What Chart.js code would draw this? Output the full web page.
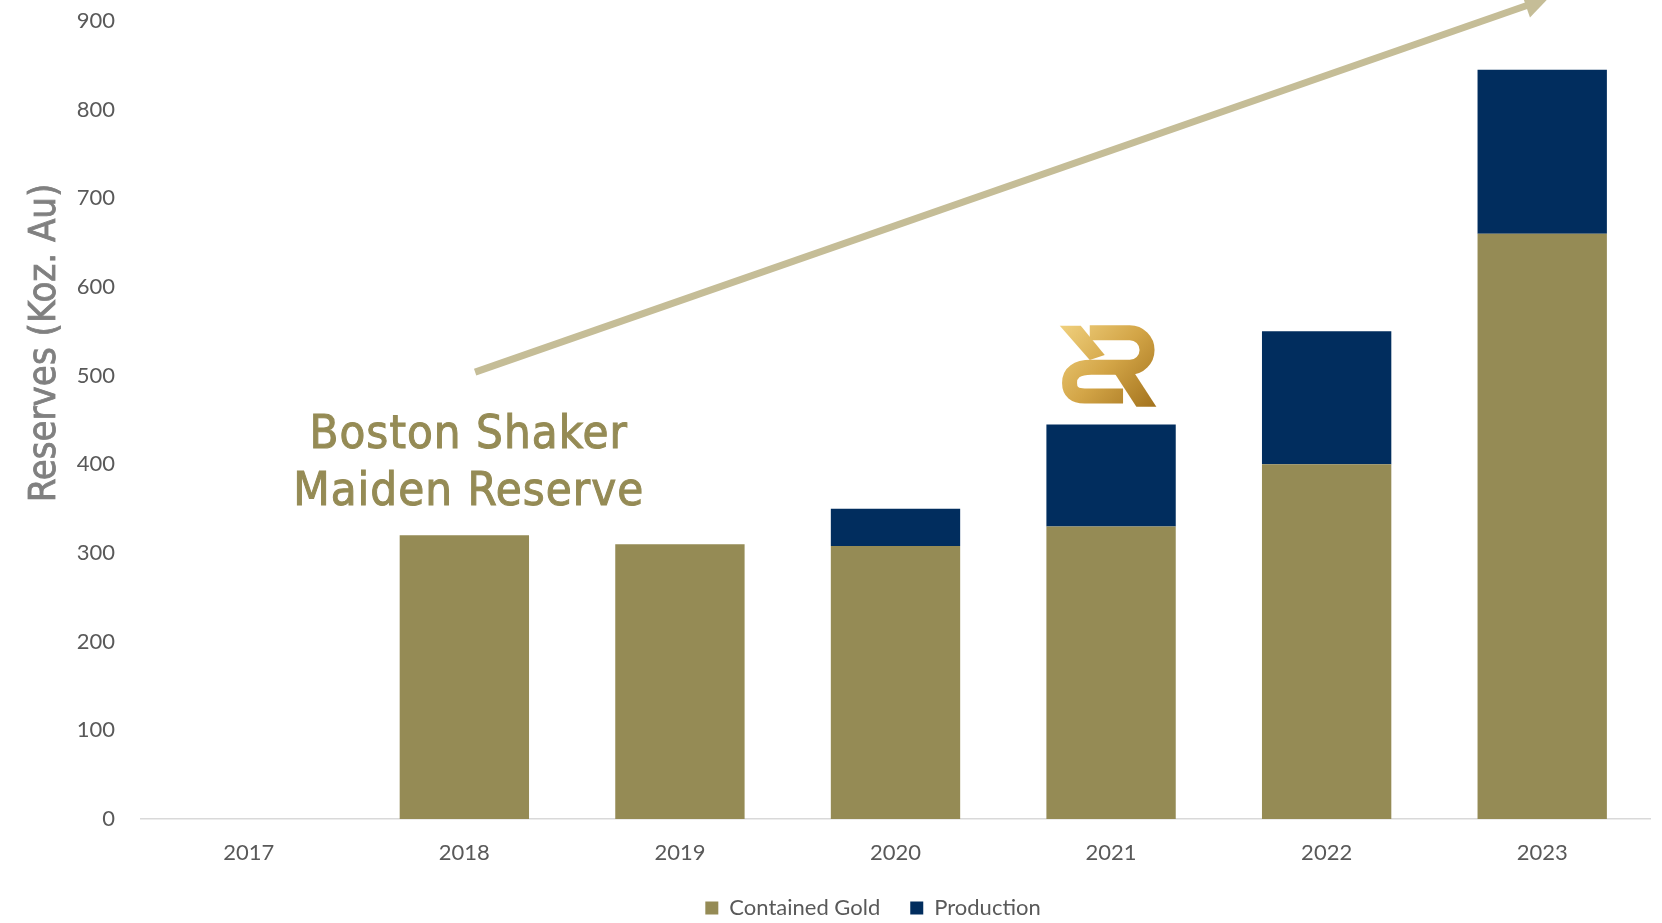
<!DOCTYPE html>
<html>
<head>
<meta charset="utf-8">
<title>Reserves</title>
<script src="https://cdn.jsdelivr.net/npm/chart.js@4.4.0/dist/chart.umd.min.js"></script>
<style>
  html, body { margin: 0; padding: 0; background: #fff; overflow: hidden; }
  #wrap { width: 1662px; height: 931px; }
</style>
</head>
<body>
<div id="wrap"><canvas id="reserves"></canvas></div>
<script>
// reserves by year, koz Au
const years = ['2017', '2018', '2019', '2020', '2021', '2022', '2023']
const containedGold = [null, 320, 310, 308, 330, 400, 660]
const production = [null, null, null, 42, 115, 150, 185]
const yMax = 900
const yStep = 100

const yTitle = 'Reserves (Koz. Au)'
const calloutLines = ['Boston Shaker', 'Maiden Reserve']

// annotation anchors in chart units: [category index, koz]
const calloutAt = [1.02, 401]
const trendFrom = [1.05, 504]
const trendTo = [6.03, 926]
const logoAt = [3.986, 512]

const GOLD = '#958b55'
const NAVY = '#012d5e'
const TEXT = '#595959'

function drawLogo(ctx, cx, cy) {
  ctx.save()
  ctx.translate(cx, cy)
  let grad = ctx.createLinearGradient(-45, -40, 45, 42)
  grad.addColorStop(0, '#efcf7c')
  grad.addColorStop(0.5, '#d3a547')
  grad.addColorStop(1, '#a4741e')
  ctx.strokeStyle = grad
  ctx.fillStyle = grad

  // left slash
  ctx.beginPath()
  ctx.moveTo(-48.3, -39.3)
  ctx.lineTo(-27.3, -39.3)
  ctx.lineTo(-3.3, -10)
  ctx.lineTo(-18.3, -5)
  ctx.closePath()
  ctx.fill()

  // bowl running into the lower hook
  ctx.lineWidth = 15
  ctx.lineCap = 'butt'
  ctx.lineJoin = 'round'
  ctx.beginPath()
  ctx.moveTo(-18.3, -32.3)
  ctx.lineTo(21.7, -32.3)
  ctx.arc(21.7, -15, 17.3, -Math.PI / 2, Math.PI / 2)
  ctx.lineTo(-16.7, 2.3)
  ctx.quadraticCurveTo(-38.5, 2.3, -38.5, 18)
  ctx.quadraticCurveTo(-38.5, 31, -23.3, 31)
  ctx.lineTo(15, 31)
  ctx.stroke()

  // leg
  ctx.beginPath()
  ctx.moveTo(3.3, 3.3)
  ctx.lineTo(23.3, 3.3)
  ctx.lineTo(48.3, 41.7)
  ctx.lineTo(28.3, 41.7)
  ctx.closePath()
  ctx.fill()
  ctx.restore()
}

const annotations = {
  id: 'annotations',
  afterLayout(chart) {
    // legend sits a little right of the canvas centre
    chart.legend.left += 48
    chart.legend.right += 48
  },
  afterDatasetsDraw(chart) {
    const {ctx, scales: {x, y}} = chart
    ctx.save()

    // rotated y title
    ctx.translate(45, 343)
    ctx.rotate(-Math.PI / 2)
    ctx.font = '38px "DejaVu Sans Condensed", "Liberation Sans Narrow", sans-serif'
    ctx.fillStyle = '#808080'
    ctx.strokeStyle = '#808080'
    ctx.lineWidth = 0.8
    ctx.textAlign = 'center'
    ctx.textBaseline = 'middle'
    ctx.fillText(yTitle, 0, 0)
    ctx.strokeText(yTitle, 0, 0)
    ctx.setTransform(1, 0, 0, 1, 0, 0)

    // growth arrow
    let x0 = x.getPixelForValue(trendFrom[0]), y0 = y.getPixelForValue(trendFrom[1])
    let x1 = x.getPixelForValue(trendTo[0]), y1 = y.getPixelForValue(trendTo[1])
    let ang = Math.atan2(y1 - y0, x1 - x0)
    let head = 27
    ctx.strokeStyle = '#c5bd97'
    ctx.fillStyle = '#c5bd97'
    ctx.lineWidth = 7
    ctx.beginPath()
    ctx.moveTo(x0, y0)
    ctx.lineTo(x1 - Math.cos(ang) * head * 0.8, y1 - Math.sin(ang) * head * 0.8)
    ctx.stroke()
    ctx.beginPath()
    ctx.moveTo(x1, y1)
    ctx.lineTo(x1 - Math.cos(ang - 0.47) * head, y1 - Math.sin(ang - 0.47) * head)
    ctx.lineTo(x1 - Math.cos(ang + 0.47) * head, y1 - Math.sin(ang + 0.47) * head)
    ctx.closePath()
    ctx.fill()

    // callout
    ctx.font = '47px "DejaVu Sans Condensed", "Liberation Sans Narrow", sans-serif'
    ctx.letterSpacing = '1px'
    ctx.fillStyle = GOLD
    ctx.strokeStyle = GOLD
    ctx.lineWidth = 1
    ctx.textAlign = 'center'
    ctx.textBaseline = 'middle'
    let cx = x.getPixelForValue(calloutAt[0]), cy = y.getPixelForValue(calloutAt[1])
    calloutLines.forEach((line, i) => {
      let ly = cy + (i === 0 ? -28 : 29)
      ctx.fillText(line, cx, ly)
      ctx.strokeText(line, cx, ly)
    })
    ctx.letterSpacing = '0px'

    drawLogo(ctx, x.getPixelForValue(logoAt[0]), y.getPixelForValue(logoAt[1]))
    ctx.restore()
  }
}

Chart.defaults.font.family = 'Lato, "Open Sans", sans-serif'
Chart.defaults.color = TEXT

new Chart(document.getElementById('reserves'), {
  type: 'bar',
  data: {
    labels: years,
    datasets: [{
      label: 'Contained Gold',
      data: containedGold,
      backgroundColor: GOLD
    }, {
      label: 'Production',
      data: production,
      backgroundColor: NAVY
    }]
  },
  options: {
    responsive: true,
    maintainAspectRatio: false,
    animation: false,
    categoryPercentage: 1,
    barPercentage: 0.6,
    layout: { padding: { top: 21, right: 12, left: 0, bottom: 2 } },
    scales: {
      x: {
        stacked: true,
        grid: { display: false, drawTicks: false },
        border: { color: '#d9d9d9', width: 1.5 },
        ticks: { font: { size: 22 }, color: TEXT, padding: 21 },
        afterFit: (scale) => { scale.height = 48 }
      },
      y: {
        stacked: true,
        min: 0,
        max: yMax,
        grid: { display: false, drawTicks: false },
        border: { display: false },
        ticks: { stepSize: yStep, font: { size: 22 }, color: TEXT, padding: 26 },
        afterFit: (scale) => {
          scale.width = 141
          // tick padding is horizontal only here, keep it off the top/bottom
          scale.paddingTop = 0
          scale.paddingBottom = 0
        }
      }
    },
    plugins: {
      legend: {
        position: 'bottom',
        labels: {
          boxWidth: 13,
          boxHeight: 13,
          padding: 30,
          font: { size: 22 },
          color: TEXT
        }
      },
      tooltip: { enabled: false }
    }
  },
  plugins: [annotations]
})
</script>
</body>
</html>
